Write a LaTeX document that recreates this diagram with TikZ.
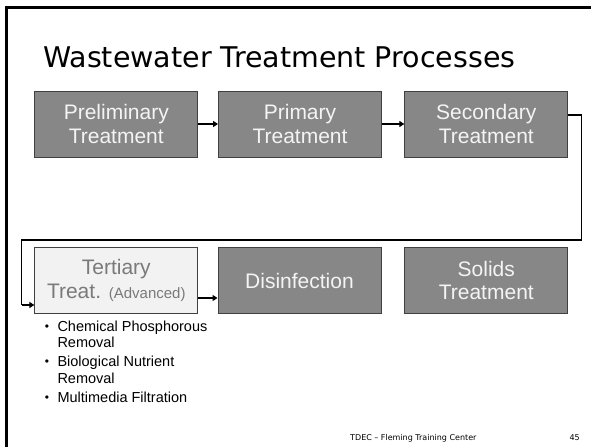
\documentclass[tikz,border=0pt]{standalone}
\usepackage{fontspec}
\setmainfont{Liberation Sans}
\newfontfamily\titlefont{DejaVu Sans}
\usetikzlibrary{arrows.meta}
\definecolor{boxgray}{HTML}{878787}
\definecolor{boxedge}{HTML}{404040}
\definecolor{lightbox}{HTML}{F2F2F2}
\definecolor{boxtext}{HTML}{F4F4F4}
\definecolor{tertext}{HTML}{7A7A7A}
\tikzset{
  procbox/.style={draw=boxedge, line width=0.9pt, fill=boxgray, text=boxtext,
    align=center, font=\fontsize{21}{23.5}\selectfont, inner sep=0pt,
    minimum width=163pt, minimum height=66pt},
  lightproc/.style={procbox, fill=lightbox, text=tertext},
  flow/.style={line width=1.3pt, -{Triangle[length=5pt,width=6pt]}},
  flowline/.style={line width=1.3pt},
  itemtext/.style={anchor=base west, inner sep=0pt, font=\fontsize{14.5}{16.5}\selectfont},
  bulletmark/.style={anchor=base, inner sep=0pt, font=\fontsize{12}{14}\selectfont},
  foottext/.style={inner sep=0pt, font=\titlefont\fontsize{8}{9}\selectfont},
}
\begin{document}
\begin{tikzpicture}[x=1pt,y=-1pt]
\useasboundingbox (0,0) rectangle (591,447);
\fill[white] (0,0) rectangle (591,447);
% slide frame
\draw[line width=2.5pt] (6.5,447) -- (6.5,7.5) -- (591,7.5);
% title
\node[anchor=base west, inner sep=0pt, font=\titlefont\fontsize{28.5}{30}\selectfont] (title) at (43,67) {Wastewater Treatment Processes};
% top row
\node[procbox] (pre) at (116.3,124) {Preliminary\\Treatment};
\node[procbox] (pri) at (300,124) {Primary\\Treatment};
\node[procbox] (sec) at (486.3,124) {Secondary\\Treatment};
% bottom row
\node[lightproc] (ter) at (116.3,280.5) {Tertiary\\Treat. {\fontsize{15}{16}\selectfont(Advanced)}};
\node[procbox] (dis) at (299.5,280.5) {Disinfection};
\node[procbox] (sol) at (486.3,280.5) {Solids\\Treatment};
% connectors
\draw[flow] (pre.east) -- (pri.west);
\draw[flow] (pri.east) -- (sec.west);
\coordinate (c1) at (581.7,115);
\coordinate (c2) at (581.7,240);
\coordinate (c3) at (21.7,240);
\coordinate (c4) at (21.7,305);
\draw[flowline] (sec.east |- c1) -- (c1) -- (c2) -- (c3) -- (c4);
\draw[flow] (c4) -- (c4 -| ter.west);
\coordinate (c5) at (200,298);
\draw[flow] (ter.east |- c5) -- (c5 -| dis.west);
% bullets
\node[bulletmark] (m1) at (47,330) {\textbullet};
\node[itemtext] (b1) at (57.3,331) {Chemical Phosphorous};
\node[itemtext] (b1b) at (57.3,347.5) {Removal};
\node[bulletmark] (m2) at (47,365.5) {\textbullet};
\node[itemtext] (b2) at (57.3,366.5) {Biological Nutrient};
\node[itemtext] (b2b) at (57.3,383) {Removal};
\node[bulletmark] (m3) at (47,401) {\textbullet};
\node[itemtext] (b3) at (57.3,402) {Multimedia Filtration};
% footer
\node[foottext, anchor=base west] (foot) at (350,440) {TDEC – Fleming Training Center};
\node[foottext, anchor=base east] (page) at (580,440) {45};
\end{tikzpicture}
\end{document}
